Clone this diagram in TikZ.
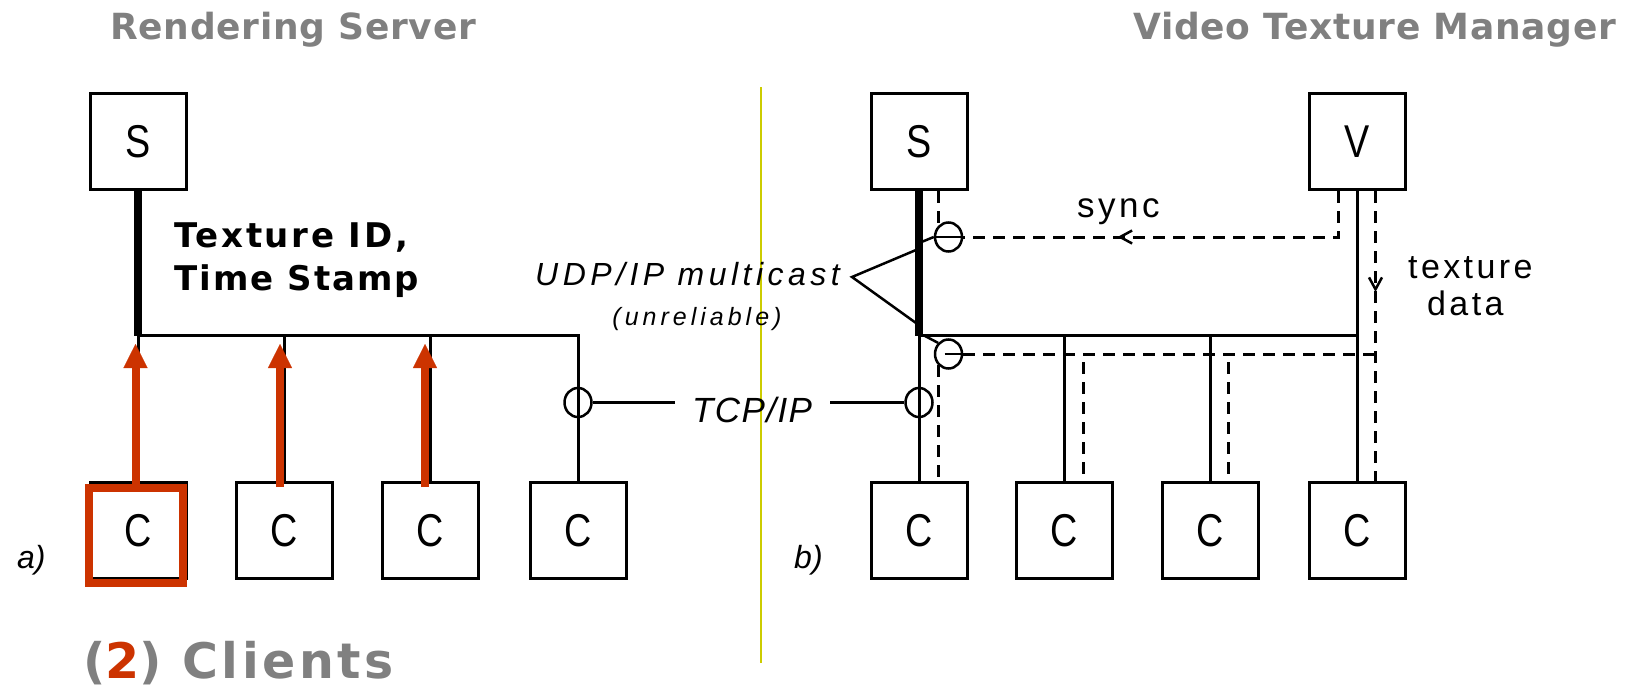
\documentclass[tikz,border=0pt]{standalone}
\usepackage{fontspec}
\usepackage{graphicx}
\setmainfont{Liberation Sans}
\newfontfamily\headfont{DejaVu Sans}
\usetikzlibrary{arrows.meta,decorations.markings,shapes.geometric}
\definecolor{headgray}{RGB}{128,128,128}
\definecolor{hired}{RGB}{204,51,0}
\definecolor{divider}{RGB}{204,204,0}
\newcommand\px[1]{\fontsize{#1pt}{#1pt}\selectfont}
\newcommand\boxletter[1]{\scalebox{0.82}[1]{#1}}
\newcommand\spaced[1]{\addfontfeatures{LetterSpace=#1}}
\begin{document}
\begin{tikzpicture}[x=1pt,y=-1pt,
  box/.style={draw, line width=3pt, minimum width=96pt, minimum height=96pt,
    inner sep=0pt, font=\px{46}},
  wire/.style={line width=3pt},
  busline/.style={line width=7.5pt},
  tap/.style={line width=2.5pt},
  dline/.style={line width=3pt, dash pattern=on 12pt off 8pt},
  port/.style={draw, ellipse, line width=2.5pt, minimum width=27pt,
    minimum height=29pt, inner sep=0pt},
  lab/.style={inner sep=0pt, anchor=base west},
  title/.style={lab, text=headgray, font=\headfont\bfseries\px{36}\spaced{2}},
  hlarrow/.style={draw=hired, line width=8pt,
    -{Triangle[length=24pt,width=24pt,line width=0.1pt]}},
  syncmark/.style={postaction={decorate}, decoration={markings,
    mark=at position 267pt with {\arrow{Straight Barb[length=12pt,width=13pt,line width=2.5pt]}}}},
  texmark/.style={postaction={decorate}, decoration={markings,
    mark=at position 101pt with {\arrow{Straight Barb[length=12pt,width=13pt,line width=2.5pt]}}}}]

\fill[white] (0,0) rectangle (1639,688);
\useasboundingbox (0,0) rectangle (1639,688);

% headings
\node[title] (hRS) at (110,39) {Rendering Server};
\node[title] (hVT) at (1133,39) {Video Texture Manager};

% separator between the two variants
\draw[divider, line width=2pt] (761,87) -- (761,663);

% ---------------- variant a) ----------------
\node[box] (sA) at (138,141.5) {\boxletter{S}};
\foreach \n/\x in {1/138,2/284,3/430,4/578}
  \node[box] (cA\n) at (\x,530.5) {\boxletter{C}};
\coordinate (busA) at (138,335.5);
\draw[wire] (sA.south) -- (cA1.north);
\draw[wire] (busA) -- (cA4.north |- busA) -- (cA4.north);
\draw[wire] (cA2.north) -- (cA2.north |- busA);
\draw[wire] (cA3.north) -- (cA3.north |- busA);
\draw[busline] (sA.south) -- (busA);

\node[lab, font=\headfont\bfseries\px{34}\spaced{8}] (tid) at (174,247) {Texture ID,};
\node[lab, font=\headfont\bfseries\px{34}\spaced{6}] (tts) at (174,290) {Time Stamp};

\node[lab, font=\itshape\px{32}] (la) at (17,568) {a)};

% highlighted client and its uplinks
\node[draw=hired, line width=8pt, minimum width=94pt, minimum height=95pt,
  inner sep=0pt] (hl) at (136,535.5) {};
\coordinate (tipy) at (0,344);
\coordinate (arA1) at ([xshift=-2.5pt,yshift=-4pt]cA1.north);
\coordinate (arA2) at ([xshift=-4pt,yshift=-6pt]cA2.north);
\coordinate (arA3) at ([xshift=-5pt,yshift=-6pt]cA3.north);
\draw[hlarrow] (arA1) -- (arA1 |- tipy);
\draw[hlarrow] (arA2) -- (arA2 |- tipy);
\draw[hlarrow] (arA3) -- (arA3 |- tipy);

\node[lab, text=headgray, font=\headfont\bfseries\px{49}\spaced{7}] (cl) at (83,678)
  {(\textcolor{hired}{2}) Clients};

% ---------------- variant b) ----------------
\node[box] (sB) at (919,141.5) {\boxletter{S}};
\node[box] (vB) at (1357,141.5) {\boxletter{V}};
\foreach \n/\x in {1/919,2/1064.5,3/1210,4/1357}
  \node[box] (cB\n) at (\x,530.5) {\boxletter{C}};
\coordinate (busB) at (919,335.5);
\draw[wire] (sB.south) -- (cB1.north);
\draw[wire] (busB) -- (vB.south |- busB);
\draw[wire] (vB.south) -- (cB4.north);
\draw[wire] (cB2.north) -- (cB2.north |- busB);
\draw[wire] (cB3.north) -- (cB3.north |- busB);
\draw[busline] (sB.south) -- (busB);

\node[lab, font=\itshape\px{35}\spaced{4}] (tcpt) at (692,422) {TCP/IP};
\node[lab, font=\itshape\px{32}\spaced{14}] (udp) at (535,285) {UDP/IP multicast};
\node[lab, anchor=base, font=\itshape\px{25}\spaced{16}] (unrel) at (697,325) {(unreliable)};

% multicast bracket
\coordinate (mcU) at (916,250);
\coordinate (mcApex) at (852,277);
\coordinate (mcL) at (916,323);
\draw[tap] (mcU) -- (mcApex) -- (mcL);

% TCP/IP ports
\node[port] (tA) at (578,402.5) {};
\node[port] (tB) at (919,402.5) {};
\coordinate (tcpL) at (675,402.5);
\coordinate (tcpR) at (830,402.5);
\draw[wire] (tA.east) -- (tcpL);
\draw[wire] (tcpR) -- (tB.west);

% sync port
\node[port] (pU) at (948.5,237) {};
\coordinate (tapU) at (919,243);
\draw[tap] (tapU) -- (pU.west);
\draw[tap] (pU.west) -- (pU.east);
\draw[dline] (pU.north west |- sB.south) -- (pU.north west);
\coordinate (vdl) at ([xshift=-18.5pt]vB.south);
\coordinate (vdr) at ([xshift=18.5pt]vB.south);
\draw[dline, syncmark] (vdl) -- (vdl |- pU.east) -- (pU.east);
\node[lab, font=\px{35}\spaced{10}] (sync) at (1077,217) {sync};

% texture data port and stream
\node[port] (pL) at (948.5,354) {};
\coordinate (cornerB) at (925,336);
\draw[tap] (cornerB) -- (pL.north west);
\draw[tap] ([xshift=-4pt]pL.center) -- (pL.east);
\draw[dline] (pL.east) -- (vdr |- pL.east);
\draw[dline] (pL.south west) -- (pL.south west |- cB1.north);
\coordinate (dB2) at ([xshift=18.5pt]cB2.north);
\coordinate (dB3) at ([xshift=18pt]cB3.north);
\draw[dline, dash phase=12pt] (dB2 |- pL.east) -- (dB2);
\draw[dline, dash phase=12pt] (dB3 |- pL.east) -- (dB3);
\draw[dline, texmark] (vdr) -- (vdr |- cB4.north);

\node[lab, font=\px{34}\spaced{10}] (tex) at (1408,278) {texture};
\node[lab, font=\px{34}\spaced{10}] (dat) at (1427,315) {data};
\node[lab, font=\itshape\px{32}] (lb) at (794,568) {b)};
\end{tikzpicture}
\end{document}
